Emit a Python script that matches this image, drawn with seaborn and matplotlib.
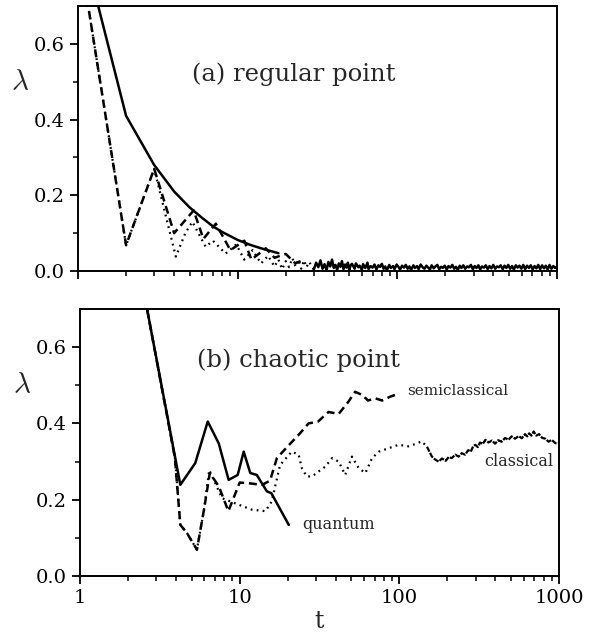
import numpy as np
import pandas as pd
import matplotlib
matplotlib.use("Agg")
import matplotlib.pyplot as plt
import seaborn as sns
from matplotlib.ticker import FixedLocator, NullFormatter, LogLocator

sns.set_style("ticks")
plt.rcParams["font.family"] = ["DejaVu Serif"]
plt.rcParams["mathtext.fontset"] = "cm"

# ---------------- data: panel (a) regular point ----------------
quant_a_t = [1, 2, 3, 4, 5, 6, 7, 8, 9, 10, 12, 14, 16, 18]
quant_a_l = [0.91, 0.41, 0.28, 0.21, 0.168, 0.14, 0.118, 0.103, 0.092, 0.082,
             0.069, 0.06, 0.053, 0.047]

semi_a_t = [1, 2, 3, 4, 5.3, 6.1, 7.3, 9, 11, 12.2, 15, 17, 20, 23, 26]
semi_a_l = [0.87, 0.068, 0.27, 0.10, 0.16, 0.085, 0.125, 0.055, 0.08, 0.03,
            0.06, 0.035, 0.045, 0.02, 0.03]

# classical, early (dotted) part
cls_a_t = [1, 2, 3, 4.1, 4.7, 5.2, 6.3, 7.0, 8.4, 9.8, 11.0, 12.4, 14.0, 15.5,
           17, 18, 19, 20, 21, 22, 23, 24, 25, 26, 27, 28]
cls_a_l = [0.87, 0.068, 0.27, 0.038, 0.10, 0.13, 0.064, 0.08, 0.046, 0.07,
           0.03, 0.055, 0.02, 0.04,
           0.012, 0.03, 0.005, 0.026, 0.01, 0.034, 0.012, 0.03, 0.006, 0.028,
           0.01, 0.024]

# classical, long-time noisy tail
cls_a_tail_t = [30, 31, 32, 33, 34, 35, 36, 37, 38, 39, 40, 41, 42, 43, 44, 45,
                46, 47, 48, 49, 50, 51, 52,
                54, 55, 57, 58, 60, 61, 63, 65, 66, 68,
                70, 72, 74, 76, 78, 80, 82, 84, 86, 89,
                91, 94, 96, 99, 102, 104, 107, 110, 113, 116,
                119, 122, 126, 129, 133, 136, 140, 144, 148, 152,
                156, 160, 164, 169, 173, 178, 183, 188, 193, 198,
                204, 209, 215, 221, 227, 233, 239, 246, 252, 259,
                266, 274, 281, 289, 297, 305, 313, 322, 330, 339,
                349, 358, 368, 378, 388, 399, 410, 421, 433, 444,
                457, 469, 482, 495, 509, 523, 537, 552, 567, 582,
                598, 615, 632, 649, 667, 685, 704, 723, 743, 763,
                784, 806, 828, 851, 874, 898, 923, 948, 974, 1000]
cls_a_tail_l = [0.004, 0.022, 0.010, 0.028, 0.006, 0.018, 0.002, 0.024, 0.012,
                0.030, 0.008, 0.016, 0.003, 0.020, 0.011, 0.026, 0.005, 0.017,
                0.009, 0.022, 0.002, 0.015, 0.019,
                0.006, 0.020, 0.010, 0.014, 0.003, 0.018, 0.008, 0.022, 0.005, 0.013,
                0.009, 0.017, 0.004, 0.015, 0.011, 0.019, 0.006, 0.012, 0.002, 0.016,
                0.008, 0.013, 0.005, 0.017, 0.010, 0.004, 0.014, 0.009, 0.016, 0.006,
                0.012, 0.003, 0.015, 0.008, 0.013, 0.005, 0.017, 0.010, 0.006, 0.014,
                0.009, 0.004, 0.015, 0.007, 0.012, 0.016, 0.005, 0.011, 0.008, 0.014,
                0.004, 0.013, 0.009, 0.016, 0.006, 0.011, 0.003, 0.014, 0.008, 0.015,
                0.006, 0.012, 0.010, 0.016, 0.005, 0.013, 0.008, 0.015, 0.004, 0.012,
                0.009, 0.015, 0.005, 0.013, 0.007, 0.016, 0.006, 0.012, 0.010, 0.015,
                0.005, 0.014, 0.008, 0.016, 0.006, 0.013, 0.004, 0.015, 0.009, 0.014,
                0.006, 0.016, 0.005, 0.014, 0.008, 0.015, 0.004, 0.013, 0.007, 0.016,
                0.005, 0.015, 0.007, 0.014, 0.004, 0.016, 0.006, 0.013, 0.008, 0.012]

# ---------------- data: panel (b) chaotic point ----------------
quant_b_t = [2.0, 2.63, 4.25, 5.27, 6.31, 7.39, 8.53, 9.72, 10.6, 11.65, 12.8,
             14.8, 15.8, 20.3]
quant_b_l = [0.96, 0.70, 0.239, 0.296, 0.405, 0.348, 0.252, 0.265, 0.326,
             0.27, 0.265, 0.222, 0.217, 0.134]

semi_b_t = [2.0, 2.63, 3.93, 4.25, 4.67, 5.4, 6.0, 6.5, 7.4, 8.5, 10.0, 11.5,
            13.8, 15.5, 17.1, 20, 23.4, 27, 31, 36, 41.7, 48, 52.8, 58.4, 63.7,
            70.5, 78, 87.5, 99]
semi_b_l = [0.96, 0.70, 0.31, 0.134, 0.113, 0.069, 0.178, 0.27, 0.235, 0.17,
            0.245, 0.243, 0.239, 0.25, 0.309, 0.34, 0.37, 0.40, 0.405, 0.43,
            0.425, 0.457, 0.483, 0.475, 0.46, 0.466, 0.46, 0.47, 0.478]

cls_b_t = [2.0, 2.63, 3.93, 4.25, 4.67, 5.4, 6.0, 6.45, 7.76, 9.85, 11.9, 14.5,
           15.9, 17.9, 21.2, 23.4, 24.5, 26.3, 28.4, 31.2, 34.4, 37.9, 41.7,
           45.8, 50.5, 55.6, 61.3, 67.5, 74.4, 85.7, 99, 114, 128, 138, 149,
           160, 168, 176, 185, 195, 204, 213, 224, 235, 246, 258, 270, 280, 290,
           299, 310, 320, 333, 346, 362, 380, 398, 416, 437, 460, 482, 505, 530,
           560, 585, 612, 632, 650, 672, 694, 720, 750, 785, 822, 860, 900, 950,
           1000]
cls_b_l = [0.96, 0.70, 0.31, 0.134, 0.113, 0.069, 0.178, 0.278, 0.204, 0.187,
           0.174, 0.17, 0.196, 0.291, 0.326, 0.318, 0.283, 0.261, 0.261, 0.274,
           0.287, 0.309, 0.30, 0.265, 0.313, 0.283, 0.27, 0.309, 0.326, 0.335,
           0.344, 0.34, 0.347, 0.353, 0.339,
           0.313, 0.305, 0.30, 0.308, 0.302, 0.312, 0.309, 0.318, 0.313, 0.322,
           0.318, 0.33, 0.326, 0.34, 0.344, 0.338, 0.35, 0.346, 0.357, 0.35,
           0.355, 0.347, 0.356, 0.352, 0.362, 0.357, 0.366, 0.36, 0.367, 0.361,
           0.372, 0.366, 0.374, 0.368, 0.379, 0.368, 0.372, 0.362, 0.36, 0.352,
           0.357, 0.348, 0.349]

tick_vals = [1, 10, 100, 1000]
tick_labels = ["1", "10", "100", "1000"]
ytick_vals = [0.0, 0.2, 0.4, 0.6]
ytick_labels = ["0.0", "0.2", "0.4", "0.6"]

for a, b in [(quant_a_t, quant_a_l), (semi_a_t, semi_a_l), (cls_a_t, cls_a_l),
             (cls_a_tail_t, cls_a_tail_l),
             (quant_b_t, quant_b_l), (semi_b_t, semi_b_l), (cls_b_t, cls_b_l)]:
    assert len(a) == len(b), (len(a), len(b))

# ---------------- figure ----------------
fig = plt.figure(figsize=(5.95, 6.41), dpi=100)
ax_a = fig.add_axes([78 / 595, 1 - 271 / 641, 479 / 595, 265 / 641])
ax_b = fig.add_axes([80 / 595, 1 - 576 / 641, 479 / 595, 267 / 641])

SOLID = dict(color="k", lw=1.8, linestyle="-")
DASH = dict(color="k", lw=1.8, linestyle=(0, (3.2, 1.9)))
DOT = dict(color="k", lw=1.6, linestyle=(0, (0.8, 1.9)))


def draw(ax, t, l, style):
    df = pd.DataFrame({"t": list(t), "lam": list(l)})
    sns.lineplot(data=df, x="t", y="lam", ax=ax, estimator=None, sort=False,
                 legend=False, **style)


# panel (a)
draw(ax_a, cls_a_t + cls_a_tail_t[:1], cls_a_l + cls_a_tail_l[:1], DOT)
draw(ax_a, cls_a_tail_t, cls_a_tail_l,
     dict(color="k", lw=1.8, linestyle="-"))
draw(ax_a, semi_a_t, semi_a_l, DASH)
draw(ax_a, quant_a_t, quant_a_l, SOLID)

# panel (b)
cb = pd.DataFrame({"t": cls_b_t, "lam": cls_b_l})
draw(ax_b, cb.t[cb.t <= 149], cb.lam[cb.t <= 149], DOT)
draw(ax_b, cb.t[cb.t >= 149], cb.lam[cb.t >= 149],
     dict(color="k", lw=1.6, linestyle=(0, (2.5, 0.6))))
draw(ax_b, semi_b_t, semi_b_l, DASH)
draw(ax_b, quant_b_t, quant_b_l, SOLID)

for ax in (ax_a, ax_b):
    ax.set_xscale("log")
    ax.set_xlim(1, 1000)
    ax.set_ylim(0, 0.7)
    ax.set_xticks(tick_vals)
    ax.xaxis.set_minor_locator(LogLocator(base=10, subs=np.arange(2, 10)))
    ax.xaxis.set_minor_formatter(NullFormatter())
    ax.set_yticks(ytick_vals)
    ax.set_yticklabels(ytick_labels)
    ax.yaxis.set_minor_locator(FixedLocator([0.1, 0.3, 0.5]))
    for s in ax.spines.values():
        s.set_visible(True)
        s.set_linewidth(1.4)
        s.set_color("k")
    ax.tick_params(axis="both", which="major", direction="out", length=6,
                   width=1.3, labelsize=14, colors="k")
    ax.tick_params(axis="both", which="minor", direction="out", length=3.5,
                   width=1.1, colors="k")
    ax.set_ylabel(r"$\lambda$", rotation=0, fontsize=21, va="center",
                  ha="center")
    ax.yaxis.set_label_coords(-0.12, 0.714)

ax_a.set_xticklabels([])
ax_a.set_xlabel("")
ax_b.set_xticklabels(tick_labels)
ax_b.set_xlabel("t", fontsize=17, labelpad=2)

ax_a.text(5.2, 0.52, "(a) regular point", fontsize=17.5, ha="left",
          va="center")
ax_b.text(5.4, 0.565, "(b) chaotic point", fontsize=17.5, ha="left",
          va="center")
ax_b.text(112, 0.484, "semiclassical", fontsize=11, ha="left", va="center")
ax_b.text(340, 0.30, "classical", fontsize=11.5, ha="left", va="center")
ax_b.text(24.5, 0.134, "quantum", fontsize=11.5, ha="left", va="center")

fig.savefig("out.png", dpi=100, facecolor="white")
